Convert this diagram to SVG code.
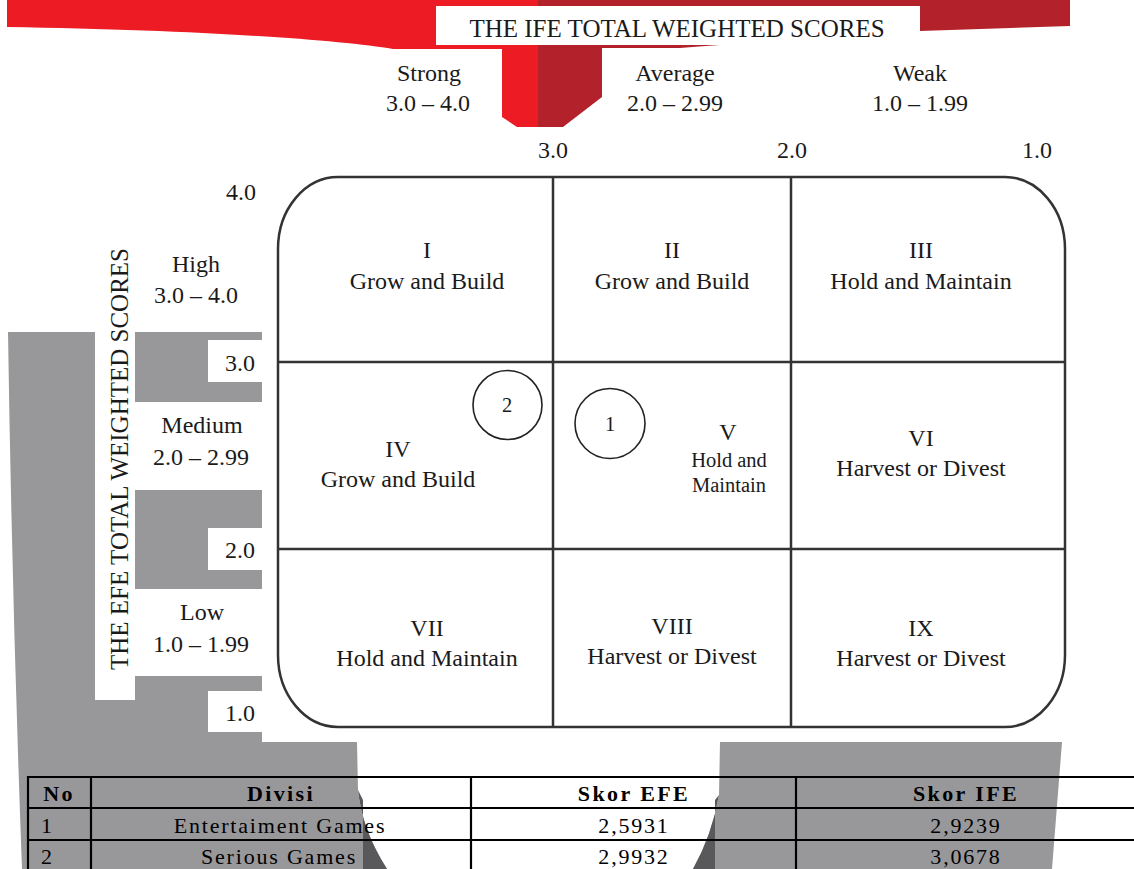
<svg xmlns="http://www.w3.org/2000/svg" width="1134" height="869" viewBox="0 0 1134 869">
<style>
  text { font-family: "Liberation Serif", "Times New Roman", serif; fill: #1a1a1a; }
  .lbl { font-size: 24px; text-anchor: middle; }
  .sm { font-size: 20.5px; text-anchor: middle; }
  .title { font-size: 25px; text-anchor: middle; }
  .tb { font-size: 22px; text-anchor: middle; letter-spacing: 1.8px; fill: #000; }
  .tbl { font-size: 22px; fill: #000; }
  .th { font-size: 22px; font-weight: bold; text-anchor: middle; letter-spacing: 2.4px; fill: #000; }
  .grid { fill: none; stroke: #333; stroke-width: 2.5; }
  .tline { stroke: #000; stroke-width: 2.2; fill: none; }
  .circ { fill: none; stroke: #222; stroke-width: 1.6; }
  .grey { fill: #98989a; }
  .dgrey { fill: #59595b; }
  .white { fill: #fff; }
</style>

<rect width="1134" height="869" fill="#fff"/>

<!-- red header band -->
<g id="ife-band">
  <path d="M7,0 L538,0 L538,127 L517,127 L502,117 L502,49 L393,49 C340,40 200,30 7,27 Z" fill="#ed1c24"/>
  <path d="M538,0 L1070,0 L1070,26 L920,31 C820,36 740,44 680,48 L602,48 L602,97 L563,127 L538,127 Z" fill="#b3222a"/>
  <rect class="white" x="436" y="6" width="484" height="39"/>
  <text class="title" x="677" y="37">THE IFE TOTAL WEIGHTED SCORES</text>
</g>

<!-- grey background shapes -->
<g id="efe-band">
  <path class="grey" d="M8,332 L262,332 L262,742 L357,742 L358,790 Q362,830 387,869 L22,869 Q12,600 8,332 Z"/>
  <path class="dgrey" d="M358,790 Q362,830 387,869 L363,869 L363,800 Z"/>
  <rect class="white" x="95" y="240" width="40" height="460"/>
  <rect class="white" x="208" y="340" width="54" height="42"/>
  <rect class="white" x="135" y="402" width="127" height="88"/>
  <rect class="white" x="208" y="528" width="54" height="42"/>
  <rect class="white" x="135" y="589" width="127" height="87"/>
  <rect class="white" x="208" y="691" width="54" height="41"/>
  <text class="title" transform="translate(128,459) rotate(-90)">THE EFE TOTAL WEIGHTED SCORES</text>
</g>
<g id="bottom-right-band">
  <path class="grey" d="M720,742 L1062,742 L1052,869 L693,869 Q712,835 719,795 Z"/>
  <path class="dgrey" d="M719,795 Q712,835 693,869 L715,869 L715,800 Z"/>
</g>

<!-- axis labels -->
<g id="ife-labels">
  <text class="lbl" x="429" y="81">Strong</text>
  <text class="lbl" x="428" y="111">3.0 – 4.0</text>
  <text class="lbl" x="675" y="81">Average</text>
  <text class="lbl" x="675" y="111">2.0 – 2.99</text>
  <text class="lbl" x="920" y="81">Weak</text>
  <text class="lbl" x="920" y="111">1.0 – 1.99</text>
  <text class="lbl" x="553" y="158">3.0</text>
  <text class="lbl" x="792" y="158">2.0</text>
  <text class="lbl" x="1037" y="158">1.0</text>
</g>
<g id="efe-labels">
  <text class="lbl" x="241" y="200">4.0</text>
  <text class="lbl" x="196" y="272">High</text>
  <text class="lbl" x="196" y="303">3.0 – 4.0</text>
  <text class="lbl" x="240" y="371">3.0</text>
  <text class="lbl" x="202" y="433">Medium</text>
  <text class="lbl" x="201" y="465">2.0 – 2.99</text>
  <text class="lbl" x="240" y="558">2.0</text>
  <text class="lbl" x="202" y="620">Low</text>
  <text class="lbl" x="201" y="652">1.0 – 1.99</text>
  <text class="lbl" x="240" y="721">1.0</text>
</g>

<!-- matrix -->
<rect x="278" y="177" width="787" height="550" rx="60" ry="72" fill="#fff"/>
<g id="connectors">
  <rect class="grid" x="278" y="177" width="787" height="550" rx="60" ry="72"/>
  <line class="grid" x1="553" y1="177" x2="553" y2="727"/>
  <line class="grid" x1="791" y1="177" x2="791" y2="727"/>
  <line class="grid" x1="278" y1="362" x2="1065" y2="362"/>
  <line class="grid" x1="278" y1="549" x2="1065" y2="549"/>
</g>

<g id="cell-I">
  <text class="lbl" x="427" y="258">I</text>
  <text class="lbl" x="427" y="289">Grow and Build</text>
</g>
<g id="cell-II">
  <text class="lbl" x="672" y="258">II</text>
  <text class="lbl" x="672" y="289">Grow and Build</text>
</g>
<g id="cell-III">
  <text class="lbl" x="921" y="258">III</text>
  <text class="lbl" x="921" y="289">Hold and Maintain</text>
</g>
<g id="cell-IV">
  <text class="lbl" x="398" y="457">IV</text>
  <text class="lbl" x="398" y="487">Grow and Build</text>
</g>
<g id="cell-V">
  <text class="lbl" x="728" y="440">V</text>
  <text class="sm" x="729" y="467">Hold and</text>
  <text class="sm" x="729" y="492">Maintain</text>
</g>
<g id="cell-VI">
  <text class="lbl" x="921" y="446">VI</text>
  <text class="lbl" x="921" y="476">Harvest or Divest</text>
</g>
<g id="cell-VII">
  <text class="lbl" x="427" y="636">VII</text>
  <text class="lbl" x="427" y="666">Hold and Maintain</text>
</g>
<g id="cell-VIII">
  <text class="lbl" x="672" y="634">VIII</text>
  <text class="lbl" x="672" y="664">Harvest or Divest</text>
</g>
<g id="cell-IX">
  <text class="lbl" x="921" y="636">IX</text>
  <text class="lbl" x="921" y="666">Harvest or Divest</text>
</g>

<g id="marker-2">
  <circle class="circ" cx="507.5" cy="405" r="34.5"/>
  <text class="sm" x="507" y="412">2</text>
</g>
<g id="marker-1">
  <circle class="circ" cx="610" cy="423.5" r="35"/>
  <text class="sm" x="610" y="431">1</text>
</g>

<!-- table -->
<g id="score-table">
  <line class="tline" x1="28" y1="777" x2="1134" y2="777"/>
  <line class="tline" x1="28" y1="808" x2="1134" y2="808"/>
  <line class="tline" x1="28" y1="840" x2="1134" y2="840"/>
  <line class="tline" x1="28" y1="776" x2="28" y2="869"/>
  <line class="tline" x1="91" y1="776" x2="91" y2="869"/>
  <line class="tline" x1="471" y1="776" x2="471" y2="869"/>
  <line class="tline" x1="796" y1="776" x2="796" y2="869"/>
  <text class="th" x="59" y="801">No</text>
  <text class="th" x="281" y="801">Divisi</text>
  <text class="th" x="634" y="801">Skor EFE</text>
  <text class="th" x="966" y="801">Skor IFE</text>
  <text class="tbl" x="41" y="833">1</text>
  <text class="tb" x="280" y="833">Entertaiment Games</text>
  <text class="tb" x="634" y="833">2,5931</text>
  <text class="tb" x="966" y="833">2,9239</text>
  <text class="tbl" x="41" y="864">2</text>
  <text class="tb" x="279" y="864">Serious Games</text>
  <text class="tb" x="634" y="864">2,9932</text>
  <text class="tb" x="966" y="864">3,0678</text>
</g>
</svg>
